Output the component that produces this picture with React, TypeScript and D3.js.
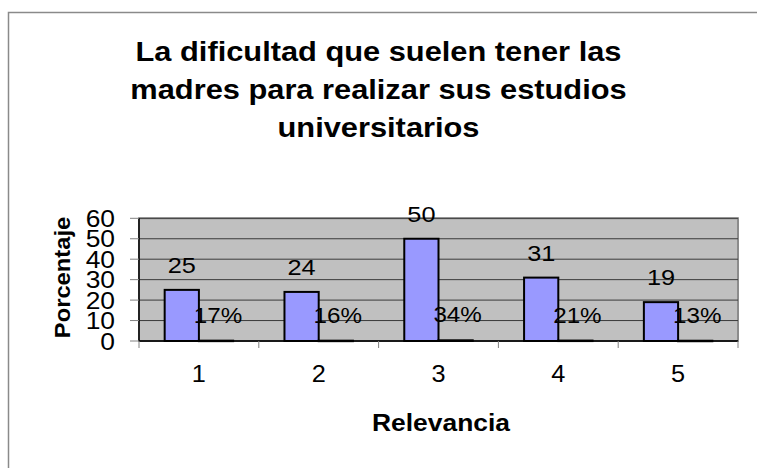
import React from "react";
import * as d3 from "d3";

const categories = ["1", "2", "3", "4", "5"];
const counts = [25, 24, 50, 31, 19];
const shares = [0.17, 0.16, 0.34, 0.21, 0.13];
const yTicks = [0, 10, 20, 30, 40, 50, 60];
const titleLines = [
  "La dificultad que suelen tener las",
  "madres para realizar sus estudios",
  "universitarios",
];
const xTitle = "Relevancia";
const yTitle = "Porcentaje";

const W = 757;
const H = 468;
const FONT = "'Liberation Sans', Arial, Helvetica, sans-serif";

export default function App() {
  const plot = { left: 139, right: 738, top: 218.3, bottom: 341 };
  const x0 = d3
    .scaleBand<string>()
    .domain(categories)
    .range([plot.left, plot.right])
    .paddingInner(0)
    .paddingOuter(0);
  const y = d3.scaleLinear().domain([0, 60]).range([plot.bottom, plot.top]);
  const bw = x0.bandwidth();
  const barW = bw / 3.5;
  const x1 = d3
    .scaleBand<number>()
    .domain([0, 1])
    .range([0.75 * barW, 2.75 * barW])
    .padding(0);

  const pct = d3.format(".0%");

  return (
    <svg
      width={W}
      height={H}
      style={{ position: "absolute", left: 0, top: 0, display: "block", background: "#fff" }}
      fontFamily={FONT}
    >
      {/* chart area border */}
      <rect x={8.5} y={12.5} width={W + 20} height={H + 20} fill="#fff" stroke="#8a8a8a" strokeWidth={1.5} />

      {/* title */}
      {titleLines.map((t, i) => (
        <text
          key={i}
          transform={`translate(378.5,${61 + i * 38}) scale(1.1,1)`}
          textAnchor="middle"
          fontSize={28}
          fontWeight="bold"
          fill="#000"
        >
          {t}
        </text>
      ))}

      {/* plot area */}
      <rect
        x={plot.left}
        y={plot.top}
        width={plot.right - plot.left}
        height={plot.bottom - plot.top}
        fill="#c0c0c0"
        stroke="#8c8c8c"
        strokeWidth={2}
      />
      {yTicks.map((t) => (
        <line
          key={"g" + t}
          x1={plot.left}
          x2={plot.right}
          y1={y(t)}
          y2={y(t)}
          stroke="#3a3a3a"
          strokeWidth={1}
        />
      ))}

      {/* bars */}
      {categories.map((c, i) => (
        <g key={"b" + c}>
          <rect
            x={(x0(c) as number) + (x1(0) as number)}
            y={y(counts[i])}
            width={x1.bandwidth()}
            height={y(0) - y(counts[i])}
            fill="#9999ff"
            stroke="#000"
            strokeWidth={2}
          />
          <rect
            x={(x0(c) as number) + (x1(1) as number)}
            y={y(shares[i])}
            width={x1.bandwidth()}
            height={Math.max(0.5, y(0) - y(shares[i]))}
            fill="#993366"
            stroke="#000"
            strokeWidth={2}
          />
        </g>
      ))}

      {/* axes */}
      <line x1={plot.left} x2={plot.left} y1={plot.top} y2={plot.bottom} stroke="#000" strokeWidth={1.5} />
      <line x1={plot.left} x2={plot.right} y1={plot.bottom} y2={plot.bottom} stroke="#000" strokeWidth={1.5} />
      {yTicks.map((t) => (
        <line key={"yt" + t} x1={plot.left - 9} x2={plot.left} y1={y(t)} y2={y(t)} stroke="#808080" strokeWidth={1} />
      ))}
      {[...categories.map((c) => x0(c) as number), plot.right].map((xx, i) => (
        <line key={"xt" + i} x1={xx} x2={xx} y1={plot.bottom} y2={plot.bottom + 7} stroke="#808080" strokeWidth={1} />
      ))}

      {/* y tick labels */}
      {yTicks.map((t) => (
        <text
          key={"yl" + t}
          transform={`translate(115,${y(t) + 8.5}) scale(1.1,1)`}
          textAnchor="end"
          fontSize={24}
          fill="#000"
        >
          {t}
        </text>
      ))}

      {/* x tick labels */}
      {categories.map((c) => (
        <text
          key={"xl" + c}
          transform={`translate(${(x0(c) as number) + bw / 2},381.5) scale(1.1,1)`}
          textAnchor="middle"
          fontSize={23}
          fill="#000"
        >
          {c}
        </text>
      ))}

      {/* data labels */}
      {categories.map((c, i) => (
        <g key={"dl" + c}>
          <text
            transform={`translate(${(x0(c) as number) + (x1(0) as number) + x1.bandwidth() / 2},${y(counts[i]) - 17}) scale(1.15,1)`}
            textAnchor="middle"
            fontSize={22}
            fill="#000"
          >
            {counts[i]}
          </text>
          <text
            transform={`translate(${(x0(c) as number) + (x1(1) as number) + x1.bandwidth() / 2 + 2},${y(shares[i]) - 18}) scale(1.1,1)`}
            textAnchor="middle"
            fontSize={22}
            fill="#000"
          >
            {pct(shares[i])}
          </text>
        </g>
      ))}

      {/* axis titles */}
      <text
        transform={`translate(441,430.5) scale(1.1,1)`}
        textAnchor="middle"
        fontSize={24}
        fontWeight="bold"
        fill="#000"
      >
        {xTitle}
      </text>
      <text
        transform={`translate(70,277.5) rotate(-90) scale(1.08,1)`}
        textAnchor="middle"
        fontSize={22}
        fontWeight="bold"
        fill="#000"
      >
        {yTitle}
      </text>
    </svg>
  );
}
